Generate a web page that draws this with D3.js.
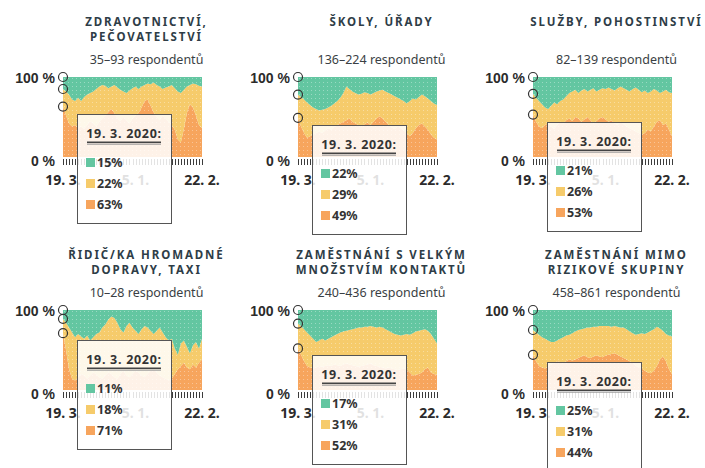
<!DOCTYPE html>
<meta charset="utf-8">
<style>
    body {
        margin: 0;
        background-color: #fff;
    }

    svg {
        font-family: "Noto Sans", sans-serif;
    }

    .title {
        font-size: 11.5px;
        font-weight: 700;
        letter-spacing: 1.9px;
        fill: #2e3d47;
    }

    .subtitle {
        font-size: 12.5px;
        fill: #3a3f44;
    }

    .axis text {
        font-size: 14px;
        font-weight: 700;
        fill: #2b2b2b;
    }

    .axis line {
        stroke: #3c3c3c;
        shape-rendering: crispEdges;
    }

    .axis path {
        display: none;
    }

    .tip rect.box {
        fill: #fff;
        fill-opacity: 0.86;
        stroke: #555;
        stroke-width: 1;
        shape-rendering: crispEdges;
    }

    .tip text {
        font-size: 12.5px;
        font-weight: 700;
        fill: #333;
    }

    .marker {
        fill: none;
        stroke: #333;
        stroke-width: 1.2px;
    }
</style>

<body>
    <svg width="705" height="468"></svg>
</body>
<script src="https://cdn.jsdelivr.net/npm/d3@7"></script>
<script>
    // --- data -------------------------------------------------------------
    var waveCount = 47;
    var tickLabels = ["19. 3.", "5. 1.", "22. 2."];
    var tickLabelWaves = [0, 24, 46];
    var firstWaveLabel = "19. 3. 2020:";

    var titles = [
        ["ZDRAVOTNICTVÍ,", "PEČOVATELSTVÍ"],
        ["ŠKOLY, ÚŘADY"],
        ["SLUŽBY, POHOSTINSTVÍ"],
        ["ŘIDIČ/KA HROMADNÉ", "DOPRAVY, TAXI"],
        ["ZAMĚSTNÁNÍ S VELKÝM", "MNOŽSTVÍM KONTAKTŮ"],
        ["ZAMĚSTNÁNÍ MIMO", "RIZIKOVÉ SKUPINY"]
    ];
    var respondents = ["35–93", "136–224", "82–139", "10–28", "240–436", "458–861"];

    // share (%) of the top (green) and bottom (orange) band per survey wave
    var zdravGreen = [15, 18, 22, 28, 30, 26, 30, 25, 22, 20, 18, 15, 12, 10, 11, 14, 12, 10, 13, 16, 18, 20, 17, 14, 12, 15, 12, 10, 8, 9, 7, 10, 12, 15, 13, 12, 10, 14, 18, 20, 16, 12, 10, 8, 9, 11, 12];
    var zdravOrange = [63, 52, 42, 38, 40, 36, 38, 35, 40, 45, 42, 38, 44, 48, 52, 56, 60, 55, 48, 45, 50, 46, 42, 48, 52, 55, 62, 70, 72, 64, 56, 50, 46, 52, 48, 44, 40, 34, 22, 18, 35, 55, 66, 62, 52, 40, 36];

    var skolyGreen = [22, 25, 28, 32, 35, 38, 40, 42, 41, 40, 38, 36, 33, 30, 26, 20, 12, 15, 18, 20, 22, 21, 19, 20, 22, 20, 18, 17, 16, 18, 20, 22, 24, 26, 28, 30, 33, 30, 27, 28, 25, 22, 24, 27, 30, 33, 35];
    var skolyOrange = [49, 38, 30, 24, 26, 28, 30, 32, 30, 33, 36, 34, 38, 40, 42, 44, 46, 48, 44, 42, 40, 38, 41, 43, 40, 44, 48, 51, 48, 44, 40, 37, 35, 38, 36, 33, 30, 26, 30, 36, 40, 42, 38, 34, 28, 24, 22];

    var sluzbyGreen = [21, 26, 30, 34, 38, 40, 36, 32, 34, 30, 28, 24, 20, 18, 16, 20, 17, 15, 18, 16, 14, 18, 16, 14, 15, 13, 15, 17, 14, 12, 14, 16, 18, 15, 13, 16, 19, 17, 20, 18, 15, 17, 20, 18, 16, 19, 20];
    var sluzbyOrange = [53, 44, 38, 36, 40, 42, 38, 35, 40, 44, 42, 46, 48, 45, 50, 48, 44, 47, 50, 46, 42, 45, 48, 50, 47, 44, 46, 42, 40, 44, 41, 38, 36, 34, 32, 30, 28, 30, 34, 32, 38, 44, 46, 40, 42, 34, 26];

    var ridicGreen = [11, 16, 22, 28, 34, 30, 33, 36, 32, 38, 34, 30, 28, 22, 18, 12, 8, 10, 16, 24, 28, 20, 16, 22, 26, 30, 24, 20, 22, 26, 30, 26, 22, 28, 34, 38, 36, 48, 56, 42, 38, 46, 54, 44, 40, 48, 36];
    var ridicOrange = [71, 50, 26, 14, 12, 16, 20, 18, 14, 18, 22, 20, 16, 14, 18, 22, 20, 16, 14, 20, 24, 18, 16, 20, 24, 22, 18, 16, 20, 24, 26, 22, 18, 16, 14, 12, 14, 20, 26, 30, 34, 28, 26, 32, 28, 34, 38];

    var kontaktGreen = [17, 20, 24, 28, 32, 36, 40, 38, 36, 38, 36, 34, 32, 30, 28, 27, 26, 25, 24, 23, 22, 22, 21, 21, 20, 21, 22, 21, 22, 24, 26, 28, 30, 31, 32, 31, 30, 31, 29, 27, 26, 25, 24, 26, 30, 36, 42];
    var kontaktOrange = [52, 44, 36, 30, 28, 27, 28, 30, 29, 30, 31, 30, 32, 31, 30, 32, 33, 32, 31, 30, 29, 30, 31, 32, 33, 31, 30, 29, 28, 27, 28, 27, 26, 25, 26, 27, 26, 22, 18, 19, 20, 22, 26, 28, 22, 20, 19];

    var mimoGreen = [25, 28, 31, 34, 36, 38, 40, 40, 38, 36, 34, 32, 31, 29, 27, 25, 24, 23, 22, 22, 21, 21, 20, 20, 20, 20, 21, 20, 21, 22, 22, 24, 27, 29, 31, 30, 29, 30, 28, 26, 24, 21, 23, 26, 30, 32, 33];
    var mimoOrange = [44, 36, 30, 28, 27, 29, 32, 34, 36, 35, 34, 36, 38, 37, 38, 40, 42, 43, 41, 40, 42, 43, 42, 41, 43, 44, 45, 46, 44, 42, 40, 38, 36, 34, 30, 29, 27, 24, 22, 21, 24, 30, 38, 42, 36, 26, 20];

    var greenSeries = [zdravGreen, skolyGreen, sluzbyGreen, ridicGreen, kontaktGreen, mimoGreen];
    var orangeSeries = [zdravOrange, skolyOrange, sluzbyOrange, ridicOrange, kontaktOrange, mimoOrange];

    var keys = ["orange", "yellow", "green"];
    var colors = { green: "#63c6a1", yellow: "#f6cb6b", orange: "#f7a55d" };

    // --- layout -----------------------------------------------------------
    var svg = d3.select("svg");
    var colLeft = [63, 298, 533],
        rowTop = [77, 310],
        plotW = 139,
        plotH = 80;

    var x = d3.scalePoint().domain(d3.range(waveCount)).range([0, plotW]);
    var y = d3.scaleLinear().domain([0, 100]).range([plotH, 0]);

    var stack = d3.stack().keys(keys);
    var area = d3.area()
        .x(function(d, i) { return x(i); })
        .y0(function(d) { return y(d[0]); })
        .y1(function(d) { return y(d[1]); });

    // faint dot texture over the areas
    var pat = svg.append("defs").append("pattern")
        .attr("id", "dots")
        .attr("width", 4)
        .attr("height", 4)
        .attr("patternUnits", "userSpaceOnUse");
    pat.append("rect").attr("x", 1).attr("y", 1).attr("width", 1).attr("height", 1)
        .attr("fill", "#fff").attr("fill-opacity", 0.35);

    titles.forEach(function(title, p) {
        var left = colLeft[p % 3],
            top = rowTop[Math.floor(p / 3)];
        var g = svg.append("g").attr("transform", "translate(" + left + "," + top + ")");
        var cx = plotW / 2 + 14;

        var rows = d3.range(waveCount).map(function(i) {
            var gr = greenSeries[p][i], or = orangeSeries[p][i];
            return { green: gr, orange: or, yellow: 100 - gr - or };
        });
        var series = stack(rows);

        // titles
        title.forEach(function(line, k) {
            g.append("text")
                .attr("class", "title")
                .attr("x", cx)
                .attr("y", -51 + k * 15)
                .attr("text-anchor", "middle")
                .text(line);
        });
        g.append("text")
            .attr("class", "subtitle")
            .attr("x", cx)
            .attr("y", -13)
            .attr("text-anchor", "middle")
            .text(respondents[p] + " respondentů");

        g.selectAll("path.area")
            .data(series)
            .enter().append("path")
            .attr("class", "area")
            .attr("fill", function(d) { return colors[d.key]; })
            .attr("d", area);

        g.append("rect")
            .attr("width", plotW)
            .attr("height", plotH)
            .attr("fill", "url(#dots)");

        // x axis: one tick per wave
        g.append("g")
            .attr("class", "axis")
            .attr("transform", "translate(0," + (plotH + 2) + ")")
            .call(d3.axisBottom(x).tickSize(6).tickFormat(""));

        tickLabels.forEach(function(lab, k) {
            g.append("text")
                .attr("x", x(tickLabelWaves[k]))
                .attr("y", plotH + 28)
                .attr("text-anchor", "middle")
                .style("font-size", "14px")
                .style("font-weight", 700)
                .attr("fill", "#2b2b2b")
                .text(lab);
        });

        // y axis labels
        g.append("g")
            .attr("class", "axis")
            .call(d3.axisLeft(y).tickValues([0, 100]).tickSize(0).tickPadding(8)
                .tickFormat(function(d) { return d + " %"; }))
            .selectAll("text")
            .attr("dy", function(d) { return d === 0 ? "0.62em" : "0.4em"; });

        // markers on first wave
        var first = series.map(function(s) { return s[0][1]; });
        g.selectAll("circle.marker")
            .data(first)
            .enter().append("circle")
            .attr("class", "marker")
            .attr("cx", 0)
            .attr("cy", function(d) { return y(d); })
            .attr("r", 4.5);

        // tooltip box for first wave
        var bx = 14,
            by = Math.round(y(first[0]) + 7) + 0.5,
            bw = 94,
            bh = 109;
        var tip = g.append("g").attr("class", "tip")
            .attr("transform", "translate(" + bx + "," + by + ")");
        tip.append("rect").attr("class", "box")
            .attr("width", bw)
            .attr("height", bh);
        tip.append("text")
            .attr("x", bw / 2)
            .attr("y", 23)
            .attr("text-anchor", "middle")
            .style("letter-spacing", "0.7px")
            .text(firstWaveLabel);
        tip.append("rect")
            .attr("x", 10)
            .attr("y", 27)
            .attr("width", bw - 20)
            .attr("height", 1.6)
            .attr("fill", "#444");
        tip.append("rect")
            .attr("x", 10)
            .attr("y", 29.2)
            .attr("width", bw - 20)
            .attr("height", 1)
            .attr("fill", "#999");

        var legendKeys = ["green", "yellow", "orange"];
        legendKeys.forEach(function(k, j) {
            var cy = 48 + j * 21;
            tip.append("rect")
                .attr("x", 9)
                .attr("y", cy - 4.5)
                .attr("width", 9)
                .attr("height", 9)
                .attr("fill", colors[k]);
            tip.append("text")
                .attr("x", 20)
                .attr("y", cy + 4.5)
                .text(Math.round(rows[0][k]) + "%");
        });
    });
</script>
